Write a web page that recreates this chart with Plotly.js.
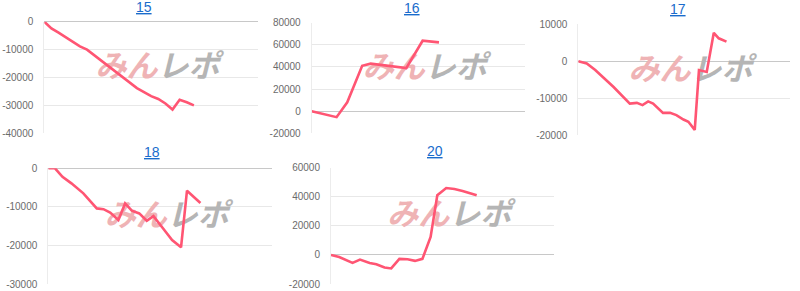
<!DOCTYPE html>
<html>
<head>
<meta charset="utf-8">
<script src="https://cdn.plot.ly/plotly-3.0.1.min.js"></script>
<style>html,body{margin:0;padding:0;background:#fff;}#chart{width:800px;height:291px;}</style>
</head>
<body>
<div id="chart"></div>
<script>
// ---- data (x = position along the period, y = difference) ----
const titles = ["15", "16", "17", "18", "20"];

const x15 = [0,1,2,3,4,5,6,7,8,9,10,11,12,13,14,15,16,17,18,19,20,21];
const y15 = [0,-2400,-3900,-5600,-7400,-8850,-10000,-12000,-13900,-15900,-17800,-19800,-21800,-23800,-25200,-26700,-27700,-29300,-31500,-28000,-28900,-30000];

const x16 = [0, 3.5, 5.0, 7.1, 8.3, 10.8, 13.3, 15.6, 17.9];
const y16 = [0, -5400, 8000, 41000, 43000, 41000, 39000, 63700, 62200];

const x17 = [0, 1.2, 2.4, 5.0, 7.3, 8.3, 9.1, 9.9, 10.6, 12.0, 13.0, 13.9, 14.9, 15.6, 16.5, 17.1, 18.2, 19.2, 19.9, 21.0];
const y17 = [0, -600, -2400, -7000, -11500, -11300, -11900, -10900, -11500, -14000, -14000, -14600, -15800, -16400, -18600, -2400, -2900, 7700, 6200, 5300];

const x18 = [0, 0.9, 1.9, 3.1, 4.7, 6.5, 7.4, 8.3, 9.4, 10.3, 11.2, 12.2, 13.2, 14.1, 15.4, 16.6, 17.8, 18.6, 20.4];
const y18 = [0, 0, -2200, -3900, -6500, -10400, -10600, -11500, -13400, -9100, -11000, -11700, -13600, -12400, -15600, -18600, -20500, -5800, -9000];

const x20 = [0, 1.1, 2.9, 3.9, 5.2, 6.1, 7.2, 8.1, 9.2, 10.3, 11.3, 12.3, 13.4, 14.3, 15.5, 16.6, 17.7, 18.8, 19.6];
const y20 = [0, -1400, -5500, -3200, -5500, -6400, -8700, -9300, -2700, -3000, -4100, -2700, 12400, 41000, 46000, 45400, 44000, 42200, 41000];

const ticks15 = [0, -10000, -20000, -30000, -40000];
const ticks16 = [80000, 60000, 40000, 20000, 0, -20000];
const ticks17 = [10000, 0, -10000, -20000];
const ticks18 = [0, -10000, -20000, -30000];
const ticks20 = [60000, 40000, 20000, 0, -20000];

const xs = [x15, x16, x17, x18, x20];
const ys = [y15, y16, y17, y18, y20];
const tickSets = [ticks15, ticks16, ticks17, ticks18, ticks20];

// ---- layout geometry (pixels) ----
const W = 800, H = 291;
const boxes = [
  {l: 44.3, r: 258, t: 21.7, b: 133.3, tx: 143.5, ty: 7},
  {l: 311.7, r: 525, t: 22.7, b: 133.3, tx: 412, ty: 7.5},
  {l: 578.3, r: 790, t: 24.3, b: 135, tx: 678, ty: 9.5},
  {l: 48.3, r: 272, t: 168.3, b: 284, tx: 151.7, ty: 151.5},
  {l: 331, r: 554, t: 167.7, b: 284, tx: 435, ty: 150.5}
];
const XR = [0, 30];

const traces = [];
const layout = {
  width: W, height: H,
  margin: {l: 0, r: 0, t: 0, b: 0, pad: 0},
  paper_bgcolor: '#fff', plot_bgcolor: '#fff',
  showlegend: false,
  annotations: []
};

const wm = '<b><i><span style="color:#efb3b5">みん</span><span style="color:#b5b5b5">レポ</span></i></b>';

boxes.forEach((bx, i) => {
  const n = i === 0 ? '' : String(i + 1);
  const xa = 'xaxis' + n, ya = 'yaxis' + n;
  const ticks = tickSets[i];
  const lo = Math.min(...ticks), hi = Math.max(...ticks);
  layout[xa] = {
    domain: [bx.l / W, bx.r / W], range: XR, anchor: 'y' + n,
    showgrid: false, zeroline: false, showticklabels: false, showline: false, ticks: '', fixedrange: true
  };
  layout[ya] = {
    domain: [1 - bx.b / H, 1 - bx.t / H], range: [lo, hi], anchor: 'x' + n,
    tickvals: ticks, ticktext: ticks.map(v => String(v)),
    showgrid: true, gridcolor: '#e8e8e8', gridwidth: 1,
    zeroline: true, zerolinecolor: '#c8c8c8', zerolinewidth: 1,
    showline: true, linecolor: '#ececec', linewidth: 1,
    ticks: 'outside', ticklen: 8, tickcolor: 'rgba(0,0,0,0)',
    tickfont: {family: 'Liberation Sans, Arial, sans-serif', size: 10, color: '#6b6b6b'},
    fixedrange: true
  };
  // watermark (behind line)
  traces.push({
    x: [XR[0] + 0.53 * (XR[1] - XR[0])],
    y: [lo + 0.57 * (hi - lo)],
    mode: 'text', text: [wm],
    textfont: {family: 'Noto Sans CJK JP', size: 31, color: '#bbb'},
    xaxis: 'x' + n, yaxis: 'y' + n, hoverinfo: 'skip', cliponaxis: false
  });
  traces.push({
    x: xs[i], y: ys[i], mode: 'lines',
    line: {color: '#ff5573', width: 2.6},
    xaxis: 'x' + n, yaxis: 'y' + n, hoverinfo: 'skip', cliponaxis: false
  });
  layout.annotations.push({
    xref: 'paper', yref: 'paper', x: bx.tx / W, y: 1 - bx.ty / H,
    xanchor: 'center', yanchor: 'middle', showarrow: false,
    text: titles[i],
    font: {family: 'Liberation Sans, Arial, sans-serif', size: 14, color: '#1a6ccc', lineposition: 'under'}
  });
});

Plotly.newPlot('chart', traces, layout, {displayModeBar: false, staticPlot: true});
</script>
</body>
</html>
